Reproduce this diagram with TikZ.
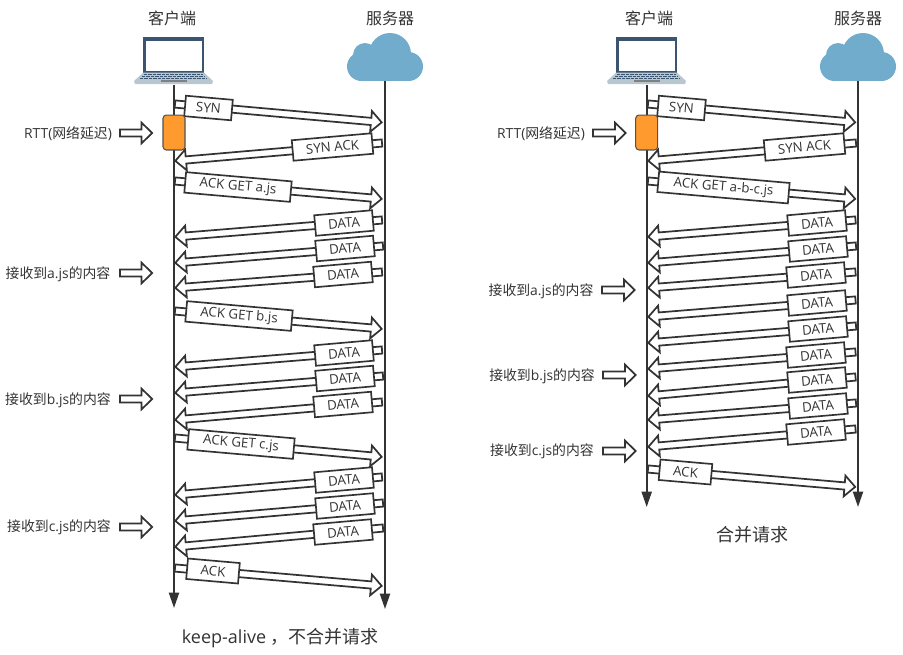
\documentclass[tikz,border=0pt]{standalone}
\usepackage{fontspec}
\setmainfont{Open Sans}
\newfontfamily\cjk{Noto Sans CJK SC}
\usetikzlibrary{calc,arrows.meta}
\definecolor{inkgray}{HTML}{333333}
\definecolor{cloudblue}{HTML}{72ACCD}
\definecolor{boxorange}{HTML}{FF9A2E}
\definecolor{screenblue}{HTML}{3B5570}
\definecolor{deckgray}{HTML}{B6C7CF}
\tikzset{
	lifeline/.style={draw=inkgray, line width=1.5pt, -{Triangle[length=11.5pt,width=7.5pt]}},
	blockarrow/.style={draw=inkgray, fill=white, line width=1.3pt, line join=miter},
	msglabel/.style={draw=inkgray, fill=white, line width=1.25pt, text=inkgray, inner sep=0pt,
		minimum height=15.4pt, font=\fontsize{10}{12}\selectfont},
	sidetext/.style={text=inkgray, inner sep=0pt, yshift=-0.6pt, font=\fontsize{10.4}{12}\selectfont},
	headtext/.style={text=inkgray, inner sep=0pt, font=\cjk\fontsize{12}{14}\selectfont},
	captext/.style={text=inkgray, inner sep=0pt, yshift=-1pt, font=\fontsize{13.5}{16}\selectfont},
	waitbox/.style={draw=inkgray!85, fill=boxorange, line width=0.8pt, rounded corners=2.5pt, inner sep=0pt,
		minimum width=16.5pt, minimum height=26.2pt}
}
\def\blockarrow(#1)(#2){
	\coordinate (tip) at ($(#2)!1pt!(#1)$);
	\coordinate (neck) at ($(tip)!8pt!(#1)$);
	\draw[blockarrow] ($(#1)!2.7pt!90:(#2)$) -- ($(neck)!2.7pt!-90:(#1)$) -- ($(neck)!7.8pt!-90:(#1)$) -- (tip)
		-- ($(neck)!7.8pt!90:(#1)$) -- ($(neck)!2.7pt!90:(#1)$) -- ($(#1)!2.7pt!-90:(#2)$) -- cycle;
}
\def\msg[#1](#2)(#3)(#4:#5:#6)#7{
	\coordinate (#1t) at (#2);
	\coordinate (#1h) at (#3);
	\blockarrow(#1t)(#1h)
	\node[msglabel, minimum width=#5*0.75pt, rotate=#6] (#1l) at (#4) {\raisebox{-0.6pt}{#7}};
}
\def\sidearrow[#1](#2)(#3){
	\coordinate (#1t) at (#2);
	\coordinate (#1h) at (#3);
	\blockarrow(#1t)(#1h)
}
\def\laptop(#1){
	\begin{scope}[shift={(#1,0)}]
		\fill[screenblue] (143.3,37.3) rectangle (204,73);
		\fill[white] (145.5,40.7) rectangle (202,70.7);
		\fill[deckgray] (143.3,72.5) -- (204,72.5) -- (213,81) -- (212,84) -- (135,84) -- (134,81) -- cycle;
		\draw[screenblue, line width=1.1pt, dash pattern=on 2.6pt off 0.7pt] (144,74.5) -- (203,74.5);
		\draw[screenblue, line width=1.1pt, dash pattern=on 2.6pt off 0.7pt] (142,76.6) -- (205,76.6);
		\draw[screenblue, line width=1.1pt, dash pattern=on 2.6pt off 0.7pt] (140,78.6) -- (207,78.6);
		\fill[gray] (160.7,79.6) rectangle (186.7,82.2);
	\end{scope}
}
\def\cloudicon(#1){
	\begin{scope}[shift={(#1,0)}]
		\fill[cloudblue] (390,54) circle (21);
		\fill[cloudblue] (365,55) circle (12);
		\fill[cloudblue] (361.5,66.5) circle (14.5);
		\fill[cloudblue] (408.5,66.5) circle (14.5);
		\fill[cloudblue] (361.5,58) rectangle (408.5,81);
	\end{scope}
}

\begin{document}
\begin{tikzpicture}[x=0.75pt, y=-0.75pt]
		%%%%% START %%%%%
		\useasboundingbox (0,0) rectangle (903,654);
		
		% left diagram
		\node[headtext] (clientL) at (172,18) {客户端};
		\node[headtext] (serverL) at (390,18) {服务器};
		\laptop(0)
		\cloudicon(0)
		
		\coordinate (clientLtop) at (174,85);
		\coordinate (clientLend) at (174,608);
		\coordinate (serverLtop) at (385,81);
		\coordinate (serverLend) at (385,609);
		\draw[lifeline] (clientLtop) -- (clientLend);
		\draw[lifeline] (serverLtop) -- (serverLend);
		
		\msg[syn](175,104)(383,122.5)(208.5,108:47:-5){SYN}
		\msg[synack](382,143)(174,161)(332.5,147:80:5){SYN ACK}
		\msg[geta](175,181)(383,199)(238,187:106:-5){ACK GET a.js}
		\msg[da](382,220)(174,237)(344,223:58:5){DATA}
		\msg[db](383,246)(174,263)(345,248.5:58:5){DATA}
		\msg[dc](382,272)(174,288)(343,274.5:58:5){DATA}
		\msg[getb](175,311)(383,329)(239,316:106:-5){ACK GET b.js}
		\msg[dd](382,350)(174,367)(344,353:58:5){DATA}
		\msg[de](383,376)(174,393)(345,378.5:58:5){DATA}
		\msg[df](382,402)(174,420)(343,404.5:58:5){DATA}
		\msg[getc](175,438)(383,457)(241,444:106:-5){ACK GET c.js}
		\msg[dg](382,477)(174,495)(344,480:58:5){DATA}
		\msg[dh](383,503)(174,521)(345,506:58:5){DATA}
		\msg[di](383,528)(174,547)(343,532:58:5){DATA}
		\msg[ack](175,568)(383,586)(213,571:52:-5){ACK}
		
		\node[waitbox] (waitL) at (174,132.5) {};
		
		\node[sidetext] (rttL) at (68,133) {RTT({\cjk 网络延迟})};
		\sidearrow[rttarrow](120,133)(153.5,133)
		\node[sidetext] (gotaL) at (58,273) {{\cjk 接收到}a.js{\cjk 的内容}};
		\sidearrow[gotaarrow](120,273)(153.5,273)
		\node[sidetext] (gotbL) at (58,399) {{\cjk 接收到}b.js{\cjk 的内容}};
		\sidearrow[gotbarrow](120,399)(153.5,399)
		\node[sidetext] (gotcL) at (59,526) {{\cjk 接收到}c.js{\cjk 的内容}};
		\sidearrow[gotcarrow](120,527)(153.5,527)
		
		\node[captext] (capL) at (280,637) {keep-alive\hspace{3pt}{\cjk ，不合并请求}};
		
		% right diagram
		\node[headtext] (clientR) at (649,18) {客户端};
		\node[headtext] (serverR) at (858,18) {服务器};
		\laptop(473)
		\cloudicon(473)
		
		\coordinate (clientRtop) at (646.7,85);
		\coordinate (clientRend) at (646.7,507);
		\coordinate (serverRtop) at (858,81);
		\coordinate (serverRend) at (858,507);
		\draw[lifeline] (clientRtop) -- (clientRend);
		\draw[lifeline] (serverRtop) -- (serverRend);
		
		\msg[rsyn](648,104)(856.5,122.5)(681.5,108:47:-5){SYN}
		\msg[rsynack](856,143)(647,161)(804.5,147:80:5){SYN ACK}
		\msg[rget](648,181)(856.5,199)(723.5,187.5:131:-5){ACK GET a-b-c.js}
		\msg[ra](855.5,220)(647,237)(817,223:58:5){DATA}
		\msg[rb](856,246)(647,263)(818,249:58:5){DATA}
		\msg[rc](855.5,272)(647,288)(816,275:58:5){DATA}
		\msg[rd](855.5,300)(647,317)(817,303:58:5){DATA}
		\msg[re](856,326)(647,343)(818,329:58:5){DATA}
		\msg[rf](855.5,352)(647,369)(816,355:58:5){DATA}
		\msg[rg](855.5,377)(647,396)(817,380:58:5){DATA}
		\msg[rh](856,403)(647,420)(818,406:58:5){DATA}
		\msg[ri](855.5,429)(647,447)(816,432:58:5){DATA}
		\msg[rack](648,469)(856.5,487)(685.5,472:52:-5){ACK}
		
		\node[waitbox] (waitR) at (646.7,132.5) {};
		
		\node[sidetext] (rttR) at (541,133) {RTT({\cjk 网络延迟})};
		\sidearrow[rrttarrow](593,133)(627,133)
		\node[sidetext] (gotaR) at (541,290) {{\cjk 接收到}a.js{\cjk 的内容}};
		\sidearrow[rgotaarrow](602,290)(636,290)
		\node[sidetext] (gotbR) at (542,375) {{\cjk 接收到}b.js{\cjk 的内容}};
		\sidearrow[rgotbarrow](603,375)(637,375)
		\node[sidetext] (gotcR) at (542,450) {{\cjk 接收到}c.js{\cjk 的内容}};
		\sidearrow[rgotcarrow](603,451)(637,451)
		
		\node[captext, font=\cjk\fontsize{13.5}{16}\selectfont] (capR) at (752,533) {合并请求};
		%%%%% END %%%%%
	\end{tikzpicture}
\end{document}
